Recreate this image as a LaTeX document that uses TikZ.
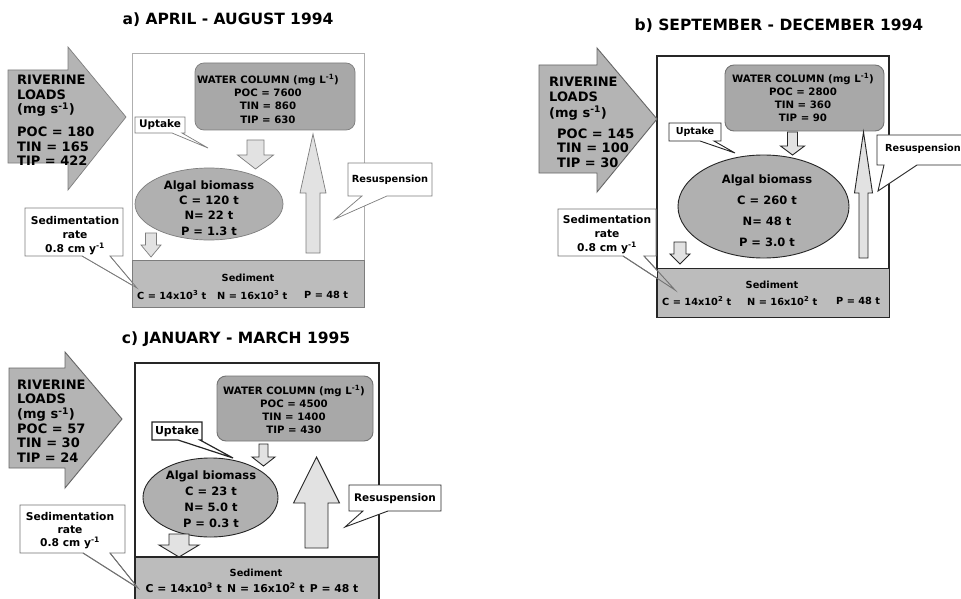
\documentclass[tikz,border=0pt]{standalone}
\usepackage{fontspec}
\setmainfont{DejaVu Sans}
\usetikzlibrary{shapes.geometric}
\definecolor{arrowgray}{RGB}{180,180,180}
\definecolor{wcgray}{RGB}{168,168,168}
\definecolor{algagray}{RGB}{176,176,176}
\definecolor{sedgray}{RGB}{188,188,188}
\definecolor{lightfill}{RGB}{226,226,226}
\definecolor{agray}{RGB}{125,125,125}
\definecolor{aframe}{RGB}{175,175,175}
\newcommand\myfs[2]{\fontsize{#1}{#2}\selectfont\bfseries}
% vertical block arrow: style, cx, shaft half width, head half width, shaft end y, head base y, tip y
\newcommand\vblk[7]{\draw[#1] ({#2-#3},#5) -- ({#2+#3},#5) -- ({#2+#3},#6) -- ({#2+#4},#6) -- (#2,#7) -- ({#2-#4},#6) -- ({#2-#3},#6) -- cycle;}
% horizontal block arrow: style, x0, head base x, body top, body bottom, head top, head bottom, tip x, tip y
\newcommand\hblk[9]{\draw[#1] (#2,#4) -- (#3,#4) -- (#3,#6) -- (#8,#9) -- (#3,#7) -- (#3,#5) -- (#2,#5) -- cycle;}
% callout: style, x0, y0, x1, y1, base x1, base x2, tip coordinate
\newcommand\callout[8]{\draw[#1] (#2,#3) -- (#4,#3) -- (#4,#5) -- (#7,#5) -- #8 -- (#6,#5) -- (#2,#5) -- cycle;}
\tikzset{
  txt/.style={inner sep=0pt, align=center},
  ttl/.style={txt, font=\myfs{15.5}{18}},
  riv/.style={inner sep=0pt, align=left, anchor=north west, font=\myfs{13}{#1}},
  riv/.default=14.5,
  wct/.style={txt, anchor=north, font=\myfs{10.2}{#1}},
  wct/.default=13,
  algt/.style={txt, anchor=north, font=\myfs{11.5}{#1}},
  algt/.default=15.3,
  lbl/.style={txt, font=\myfs{#1}{12}},
  lbl/.default=10.5,
  sedt/.style={txt, anchor=north, font=\myfs{10.7}{#1}},
  sedt/.default=14,
  sedv/.style={inner sep=0pt, anchor=west, font=\myfs{9.8}{11}},
  sedh/.style={txt, font=\myfs{9.8}{11}},
  lineA/.style={draw=agray, line width=0.7pt},
  lineB/.style={draw=black!85, line width=0.9pt},
  frameA/.style={draw=aframe, line width=0.8pt, fill=white},
  frameB/.style={draw=black!85, line width=1.2pt, fill=white},
  bigarr/.style={fill=arrowgray},
  wcbox/.style={fill=wcgray, rounded corners=9pt},
  algbox/.style={ellipse, fill=algagray, inner sep=0pt},
  smallarr/.style={fill=lightfill},
  callbox/.style={fill=white},
  sedbox/.style={fill=sedgray}
}
\begin{document}
\begin{tikzpicture}[x=1pt,y=-1pt]
\clip (0,0) rectangle (961,599);
\fill[white] (0,0) rectangle (961,599);

%%%%%%%%%%%%%%%% PANEL A
\node[ttl] (a-title) at (228,20) {a) APRIL - AUGUST 1994};
\draw[frameA] (132,53) rectangle (364,307);
\hblk{lineA,bigarr}{8}{68}{70}{163}{47}{190}{126}{117}
\node[riv] (a-riv) at (17,75.2) {RIVERINE\\LOADS\\(mg s\textsuperscript{-1})\\[8.5pt]POC = 180\\TIN = 165\\TIP = 422};
\draw[lineA,wcbox] (195,63) rectangle (355,130);
\node[wct=13.3] (a-wc) at (268,74.1) {WATER COLUMN (mg L\textsuperscript{-1})\\POC = 7600\\TIN = 860\\TIP = 630};
\vblk{lineA,smallarr}{255.5}{8.5}{18}{140}{155}{169}
\node[lineA,algbox,minimum width=148pt,minimum height=72pt] (a-ell) at (209,204) {};
\node[algt] (a-alg) at (209,180.4) {Algal biomass\\C = 120 t\\N= 22 t\\P = 1.3 t};
\vblk{lineA,smallarr}{313}{7}{13}{253}{193}{134}
\vblk{lineA,smallarr}{151}{5.5}{10}{233}{245}{257}
\coordinate (a-uptip) at (208,148);
\callout{lineA,callbox}{135}{117}{185}{133}{172}{182}{(a-uptip)}
\node[lbl] (a-up) at (160,125) {Uptake};
\coordinate (a-restip) at (335,219);
\callout{lineA,callbox}{348}{163}{432}{196}{362}{387}{(a-restip)}
\node[lbl=9.8] (a-res) at (390,180) {Resuspension};
\coordinate (a-sedtip) at (137,288);
\callout{lineA,callbox}{25}{208}{123}{256}{82}{110}{(a-sedtip)}
\node[sedt] (a-sed) at (75,215.8) {Sedimentation\\rate\\0.8 cm y\textsuperscript{-1}};
\draw[lineA,sedbox] (132,260) rectangle (364,307);
\draw[lineA] (82,256) -- (a-sedtip) -- (110,256);
\node[sedh] (a-sedl) at (248,278) {Sediment};
\node[sedv] (a-c) at (137,295) {C = 14x10\textsuperscript{3} t};
\node[sedv] (a-n) at (217,295) {N = 16x10\textsuperscript{3} t};
\node[sedv] (a-p) at (304,295) {P = 48 t};

%%%%%%%%%%%%%%%% PANEL B
\node[ttl] (b-title) at (779,26) {b) SEPTEMBER - DECEMBER 1994};
\draw[frameB] (657,56) rectangle (889,317);
\hblk{lineB,bigarr,draw=black!60}{539}{597}{65}{173}{48}{192}{657}{119}
\node[riv=15.5] (b-riv) at (549,76.6) {RIVERINE\\LOADS\\(mg s\textsuperscript{-1})};
\node[riv] (b-rivv) at (557,128.6) {POC = 145\\TIN = 100\\TIP = 30};
\draw[lineB,wcbox,draw=black!55] (725,65) rectangle (884,131);
\node[wct] (b-wc) at (803,73.1) {WATER COLUMN (mg L\textsuperscript{-1})\\POC = 2800\\TIN = 360\\TIP = 90};
\vblk{lineB,smallarr}{792.5}{5}{12}{132}{146}{155}
\node[lineB,algbox,minimum width=171pt,minimum height=103pt] (b-ell) at (763.5,206.5) {};
\node[algt=21] (b-alg) at (767,174.4) {Algal biomass\\C = 260 t\\N= 48 t\\P = 3.0 t};
\vblk{lineB,smallarr}{863.5}{4.5}{9}{258}{193}{132}
\vblk{lineB,smallarr}{680}{6}{10}{242}{254}{264}
\coordinate (b-uptip) at (735,153);
\callout{lineB,callbox}{669}{123}{721}{141}{700}{714}{(b-uptip)}
\node[lbl=9.6] (b-up) at (695,132) {Uptake};
\coordinate (b-restip) at (878,191);
\callout{lineB,callbox}{877}{135}{968}{165}{884}{917}{(b-restip)}
\node[lbl=9.7] (b-res) at (923,149) {Resuspension};
\coordinate (b-sedtip) at (675,290);
\callout{lineB,callbox,draw=black!55}{558}{209}{656}{256}{623}{644}{(b-sedtip)}
\node[sedt] (b-sed) at (607,214.8) {Sedimentation\\rate\\0.8 cm y\textsuperscript{-1}};
\draw[lineB,sedbox] (657,268) rectangle (889,317);
\draw[lineB,draw=black!55] (623,256) -- (b-sedtip) -- (644,256);
\node[sedh] (b-sedl) at (772,285) {Sediment};
\node[sedv] (b-c) at (662,301) {C = 14x10\textsuperscript{2} t};
\node[sedv] (b-n) at (747,301) {N = 16x10\textsuperscript{2} t};
\node[sedv] (b-p) at (836,301) {P = 48 t};

%%%%%%%%%%%%%%%% PANEL C
\node[ttl] (c-title) at (236,339) {c) JANUARY - MARCH 1995};
\draw[frameB] (135,363) rectangle (379,620);
\hblk{lineB,bigarr,draw=black!60}{9}{65}{368}{468}{352}{488}{122}{419}
\node[riv=14.6] (c-riv) at (17,379.6) {RIVERINE\\LOADS\\(mg s\textsuperscript{-1})\\POC = 57\\TIN = 30\\TIP = 24};
\draw[lineB,wcbox,draw=black!55] (217,376) rectangle (373,441);
\node[wct] (c-wc) at (294,385.1) {WATER COLUMN (mg L\textsuperscript{-1})\\POC = 4500\\TIN = 1400\\TIP = 430};
\vblk{lineB,smallarr}{263.5}{4.5}{11.5}{444}{457}{466}
\node[lineB,algbox,minimum width=135pt,minimum height=79pt] (c-ell) at (210.5,497.5) {};
\node[algt=16] (c-alg) at (211,470.4) {Algal biomass\\C = 23 t\\N= 5.0 t\\P = 0.3 t};
\vblk{lineB,smallarr}{179}{10}{20}{534}{545}{557}
\vblk{lineB,smallarr}{316.5}{11.5}{23}{548}{503}{457}
\coordinate (c-uptip) at (233,458);
\callout{lineB,callbox,line width=1.2pt}{152}{422}{202}{440}{178}{200}{(c-uptip)}
\node[lbl=11] (c-up) at (177,431) {Uptake};
\coordinate (c-restip) at (345,527);
\callout{lineB,callbox}{349}{485}{441}{511}{363}{388}{(c-restip)}
\node[lbl=10.5] (c-res) at (395,499) {Resuspension};
\coordinate (c-sedtip) at (138,588);
\callout{lineB,callbox,draw=black!55}{20}{505}{125}{553}{83}{110}{(c-sedtip)}
\node[sedt=13] (c-sed) at (70,511.8) {Sedimentation\\rate\\0.8 cm y\textsuperscript{-1}};
\draw[lineB,sedbox,line width=1.2pt] (135,557) rectangle (379,620);
\draw[lineB,draw=black!55] (83,553) -- (c-sedtip) -- (110,553);
\node[sedh] (c-sedl) at (256,573) {Sediment};
\node[txt,font=\myfs{10.8}{12}] (c-vals) at (252,588) {C = 14x10\textsuperscript{3} t\enspace N = 16x10\textsuperscript{2} t\enspace P = 48 t};
\end{tikzpicture}
\end{document}
